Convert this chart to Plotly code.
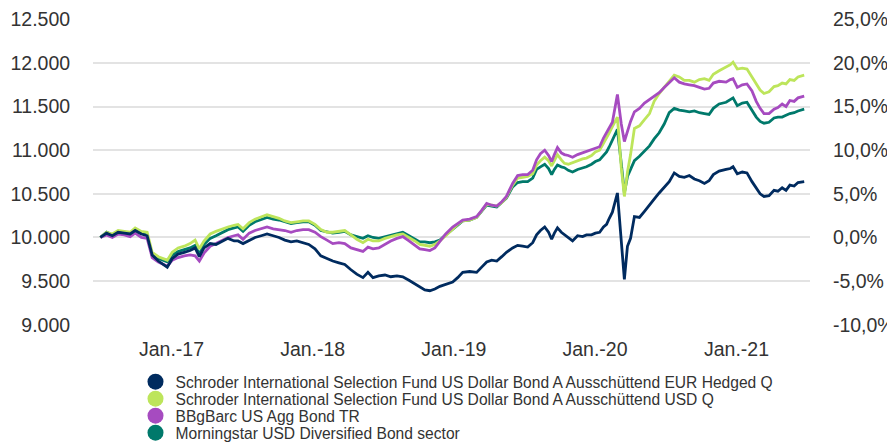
import pandas as pd
import plotly.graph_objects as go

start_date = "2016-07-01"
day_offsets = [0, 16, 31, 46, 62, 77, 90, 106, 121, 134, 150, 165, 173, 186, 201, 217, 232, 245, 256, 268,
               284, 299, 315, 330, 346, 356, 369, 385, 400, 416, 431, 447, 462, 477, 493, 508, 524, 539, 555, 570,
               586, 601, 617, 632, 648, 663, 679, 692, 705, 720, 736, 751, 767, 782, 798, 813, 826, 839, 852, 865,
               878, 893, 911, 924, 937, 955, 973, 986, 999, 1012, 1025, 1038, 1050, 1066, 1079, 1092, 1105, 1118, 1128, 1138,
               1149, 1159, 1167, 1174, 1182, 1192, 1200, 1210, 1221, 1234, 1247, 1257, 1270, 1280, 1291, 1301, 1309, 1316, 1324, 1337,
               1347, 1355, 1363, 1371, 1381, 1394, 1407, 1420, 1432, 1445, 1458, 1471, 1484, 1497, 1510, 1523, 1536, 1549, 1562, 1574,
               1585, 1600, 1618, 1629, 1636, 1647, 1660, 1672, 1685, 1696, 1706, 1716, 1729, 1742, 1752, 1763, 1773, 1783, 1794, 1804,
               1820]

eur_hedged = [10000, 10050, 10020, 10060, 10050, 10040, 10080, 10040, 10020, 9800, 9730, 9680, 9660, 9760, 9810, 9830, 9850, 9880, 9780, 9880,
              9930, 9920, 9960, 9990, 9960, 9960, 9930, 9970, 10000, 10020, 10040, 10020, 10000, 9970, 9950, 9960, 9940, 9920, 9870, 9790,
              9760, 9730, 9710, 9690, 9630, 9580, 9540, 9600, 9540, 9560, 9570, 9550, 9560, 9550, 9510, 9470, 9430, 9400, 9390, 9410,
              9440, 9460, 9490, 9540, 9600, 9610, 9600, 9660, 9720, 9740, 9730, 9780, 9830, 9880, 9910, 9900, 9890, 9940, 10030, 10080,
              10120, 10060, 9980, 10050, 10110, 10060, 10030, 10000, 9960, 10020, 10010, 10030, 10030, 10050, 10060, 10120, 10150, 10220, 10290, 10510,
              10000, 9520, 9900, 9990, 10240, 10230, 10300, 10380, 10440, 10510, 10570, 10640, 10740, 10700, 10690, 10710, 10670, 10650, 10620, 10650,
              10720, 10760, 10780, 10790, 10810, 10730, 10750, 10740, 10640, 10560, 10500, 10470, 10480, 10540, 10530, 10570, 10540, 10600, 10590, 10630,
              10640]

usd_q = [10000, 10060, 10040, 10080, 10070, 10060, 10110, 10070, 10060, 9830, 9780, 9750, 9740, 9830, 9880, 9900, 9930, 9970, 9870, 9960,
         10040, 10070, 10100, 10120, 10140, 10150, 10100, 10170, 10210, 10240, 10260, 10240, 10220, 10190, 10170, 10180, 10190, 10190, 10150, 10090,
         10060, 10060, 10070, 10080, 10030, 9980, 9940, 9980, 9960, 9960, 9990, 10010, 10030, 10040, 10000, 9960, 9920, 9910, 9900, 9920,
         9960, 10020, 10100, 10150, 10190, 10200, 10230, 10300, 10380, 10370, 10360, 10400, 10460, 10600, 10680, 10690, 10700, 10730, 10830, 10880,
         10920, 10880, 10820, 10880, 10950, 10890, 10850, 10840, 10860, 10880, 10900, 10910, 10940, 10980, 11000, 11080, 11140, 11200, 11270, 11380,
         10800, 10470, 10750, 10950, 11250, 11280, 11350, 11420, 11560, 11650, 11720, 11790, 11860, 11840, 11800, 11800, 11780, 11810, 11820, 11800,
         11870, 11910, 11950, 11980, 12010, 11930, 11940, 11930, 11840, 11760, 11690, 11650, 11670, 11730, 11740, 11770, 11760, 11810, 11800, 11840,
         11860]

bbgbarc = [10000, 10030, 10000, 10040, 10030, 10010, 10050, 10000, 9990, 9770, 9720, 9690, 9670, 9740, 9770, 9790, 9800, 9790, 9730, 9820,
           9900, 9930, 9970, 10000, 10020, 10030, 9980, 10050, 10080, 10100, 10120, 10100, 10090, 10080, 10060, 10080, 10090, 10090, 10060, 10010,
           9970, 9930, 9940, 9930, 9880, 9860, 9840, 9890, 9870, 9880, 9920, 9960, 9990, 10010, 9960, 9910, 9870, 9860, 9850, 9880,
           9950, 10040, 10120, 10160, 10200, 10210, 10240, 10310, 10390, 10370, 10360, 10410, 10470, 10620, 10710, 10720, 10720, 10770, 10890, 10960,
           11000, 10940, 10870, 10950, 11030, 10970, 10950, 10940, 10920, 10950, 10970, 10980, 11000, 11020, 11040, 11140, 11200, 11260, 11320, 11640,
           11300, 11100, 11220, 11330, 11440, 11480, 11540, 11580, 11610, 11660, 11720, 11770, 11830, 11780, 11760, 11750, 11740, 11720, 11700, 11710,
           11770, 11790, 11780, 11810, 11820, 11720, 11750, 11760, 11680, 11560, 11480, 11420, 11420, 11470, 11490, 11530, 11500, 11570, 11560, 11600,
           11620]

morningstar = [10000, 10060, 10030, 10070, 10060, 10040, 10090, 10050, 10030, 9800, 9760, 9730, 9720, 9800, 9840, 9860, 9880, 9910, 9810, 9920,
               9990, 10020, 10060, 10090, 10110, 10120, 10070, 10140, 10180, 10210, 10230, 10210, 10200, 10180, 10160, 10170, 10180, 10180, 10140, 10080,
               10060, 10050, 10060, 10070, 10030, 10010, 9990, 10020, 10000, 9990, 10010, 10030, 10050, 10060, 10020, 9980, 9950, 9950, 9940, 9950,
               9970, 10030, 10090, 10140, 10190, 10200, 10230, 10300, 10370, 10360, 10350, 10400, 10450, 10580, 10630, 10640, 10640, 10680, 10780, 10810,
               10840, 10790, 10720, 10780, 10830, 10810, 10800, 10770, 10750, 10780, 10800, 10810, 10840, 10870, 10890, 10940, 10980, 11040, 11120, 11240,
               10850, 10510, 10700, 10790, 10880, 10930, 10990, 11050, 11130, 11200, 11300, 11430, 11480, 11460, 11450, 11440, 11450, 11430, 11420, 11410,
               11480, 11530, 11550, 11580, 11600, 11510, 11540, 11550, 11460, 11380, 11330, 11310, 11320, 11370, 11380, 11380, 11400, 11420, 11430, 11450,
               11470]

series_names = [
    "Schroder International Selection Fund US Dollar Bond A Ausschüttend EUR Hedged Q",
    "Schroder International Selection Fund US Dollar Bond A Ausschüttend USD Q",
    "BBgBarc US Agg Bond TR",
    "Morningstar USD Diversified Bond sector",
]
series_colors = ["#002b5f", "#bde55b", "#a64bc0", "#00796b"]

left_ticks = [9000, 9500, 10000, 10500, 11000, 11500, 12000, 12500]
left_tick_labels = ["9.000", "9.500", "10.000", "10.500", "11.000", "11.500", "12.000", "12.500"]
right_ticks = [-0.10, -0.05, 0.0, 0.05, 0.10, 0.15, 0.20, 0.25]
right_tick_labels = ["-10,0%", "-5,0%", "0,0%", "5,0%", "10,0%", "15,0%", "20,0%", "25,0%"]
x_tick_dates = ["2017-01-01", "2018-01-01", "2019-01-01", "2020-01-01", "2021-01-01"]
x_tick_labels = ["Jan.-17", "Jan.-18", "Jan.-19", "Jan.-20", "Jan.-21"]

dates = pd.to_datetime(start_date) + pd.to_timedelta(day_offsets, unit="D")
all_series = [eur_hedged, usd_q, bbgbarc, morningstar]

fig = go.Figure()
draw_order = [3, 1, 2, 0]
for i in draw_order:
    fig.add_trace(go.Scatter(x=dates, y=all_series[i], mode="lines",
                             line=dict(color=series_colors[i], width=2.8),
                             showlegend=False, hoverinfo="skip"))

legend_ids = ["legend", "legend2", "legend3", "legend4"]
for i in range(4):
    fig.add_trace(go.Scatter(x=[None], y=[None], mode="markers", name=series_names[i],
                             legend=legend_ids[i],
                             marker=dict(color=series_colors[i], size=16, symbol="circle")))
# invisible trace on the percentage axis so it is drawn
fig.add_trace(go.Scatter(x=dates, y=[v / 10000 - 1 for v in eur_hedged], yaxis="y2",
                         mode="lines", line=dict(width=0), opacity=0, showlegend=False, hoverinfo="skip"))

# the page body has an 8px margin, so the figure is sized to fill the rest of the window
W, H = 887, 434
font_family = "Liberation Sans, Arial, sans-serif"
tick_font = dict(size=19.5, color="#333333", family=font_family)
legend_style = dict(xref="container", yref="container", x=127.5 / W, xanchor="left", yanchor="middle",
                    font=dict(size=15.6, color="#333333", family=font_family),
                    bgcolor="rgba(0,0,0,0)", borderwidth=0)
legend_rows = [374, 391, 408, 425]

y_range = [8997, 12504]
fig.update_layout(
    width=W, height=H,
    margin=dict(l=85, r=85, t=11, b=117, autoexpand=False),
    paper_bgcolor="white", plot_bgcolor="white",
    font=dict(family=font_family, size=19.5, color="#333333"),
    xaxis=dict(range=["2016-06-12", "2021-07-10"], tickvals=pd.to_datetime(x_tick_dates), ticktext=x_tick_labels,
               showgrid=False, zeroline=False, showline=False, ticklabeloverflow="allow",
               ticks="outside", ticklen=7, tickcolor="rgba(0,0,0,0)", tickfont=tick_font),
    yaxis=dict(range=y_range, tickvals=left_ticks, ticktext=left_tick_labels,
               showgrid=True, gridcolor="#e3e3e3", gridwidth=2, zeroline=False, showline=False,
               ticklabeloverflow="allow",
               ticks="outside", ticklen=18, tickcolor="rgba(0,0,0,0)", tickfont=tick_font),
    yaxis2=dict(range=[v / 10000 - 1 for v in y_range], tickvals=right_ticks, ticktext=right_tick_labels,
                overlaying="y", side="right",
                showgrid=False, zeroline=False, showline=False, ticklabeloverflow="allow",
                ticks="outside", ticklen=18, tickcolor="rgba(0,0,0,0)", tickfont=tick_font),
)
for lid, row in zip(legend_ids, legend_rows):
    fig.update_layout({lid: dict(legend_style, y=1 - row / H)})

fig.write_html("out.html")
